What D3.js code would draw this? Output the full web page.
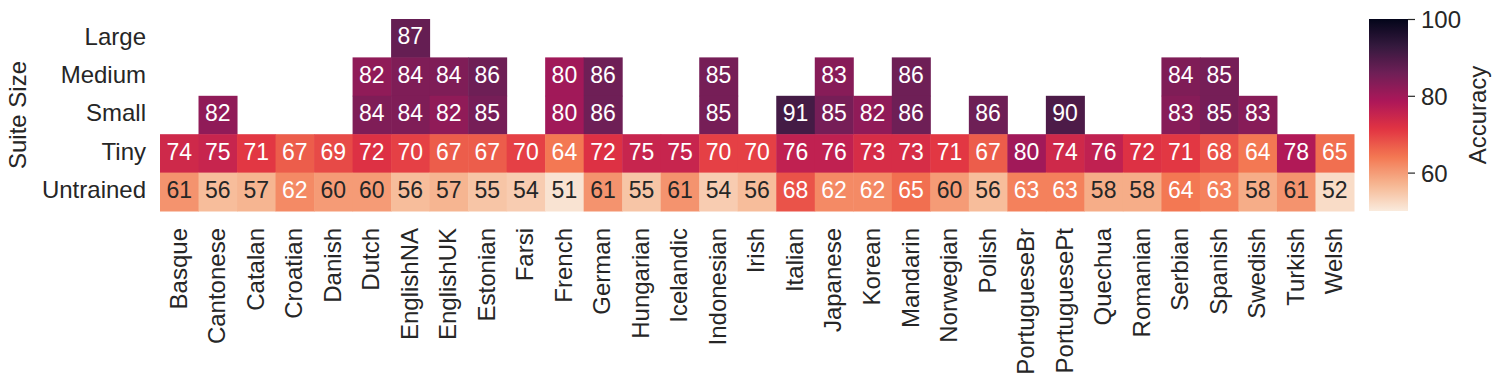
<!DOCTYPE html>
<html>
<head>
<meta charset="utf-8">
<script src="https://cdn.jsdelivr.net/npm/d3@7"></script>
<style>
  body { margin: 0; background: #fff; }
  svg { font-family: "Liberation Sans", Arial, sans-serif; }
</style>
</head>
<body>
<div id="heatmap"></div>
<script>
const languages = ["Basque", "Cantonese", "Catalan", "Croatian", "Danish", "Dutch", "EnglishNA", "EnglishUK",
  "Estonian", "Farsi", "French", "German", "Hungarian", "Icelandic", "Indonesian", "Irish", "Italian",
  "Japanese", "Korean", "Mandarin", "Norwegian", "Polish", "PortugueseBr", "PortuguesePt", "Quechua",
  "Romanian", "Serbian", "Spanish", "Swedish", "Turkish", "Welsh"];
const sizes = ["Large", "Medium", "Small", "Tiny", "Untrained"];

const _ = null;
const large = [_, _, _, _, _, _, 87, _, _, _, _, _, _, _, _, _, _, _, _, _, _, _, _, _, _, _, _, _, _, _, _];
const medium = [_, _, _, _, _, 82, 84, 84, 86, _, 80, 86, _, _, 85, _, _, 83, _, 86, _, _, _, _, _, _, 84, 85, _, _, _];
const small = [_, 82, _, _, _, 84, 84, 82, 85, _, 80, 86, _, _, 85, _, 91, 85, 82, 86, _, 86, _, 90, _, _, 83, 85, 83, _, _];
const tiny = [74, 75, 71, 67, 69, 72, 70, 67, 67, 70, 64, 72, 75, 75, 70, 70, 76, 76, 73, 73, 71, 67, 80, 74, 76, 72, 71, 68, 64, 78, 65];
const untrained = [61, 56, 57, 62, 60, 60, 56, 57, 55, 54, 51, 61, 55, 61, 54, 56, 68, 62, 62, 65, 60, 56, 63, 63, 58, 58, 64, 63, 58, 61, 52];
const colorTicks = [60, 80, 100];

const rows = [large, medium, small, tiny, untrained];
const cells = [];
rows.forEach((vals, r) => vals.forEach((v, i) => {
  if (v !== null) cells.push({ size: sizes[r], lang: languages[i], value: v });
}));

// rocket colormap, reversed (light = low)
const rocket = d3.scaleLinear()
  .domain([0, 1 / 7, 2 / 7, 3 / 7, 4 / 7, 5 / 7, 6 / 7, 1])
  .range(["#03051a", "#35193e", "#701f57", "#ad1759", "#e13342", "#f37651", "#f6b48f", "#faebdd"])
  .interpolate(d3.interpolateRgb);
const vmin = 50, vmax = 100;
const color = (v) => rocket(1 - (v - vmin) / (vmax - vmin));

const luminance = (c) => {
  const rgb = d3.rgb(c);
  const lin = (x) => { x /= 255; return x <= 0.03928 ? x / 12.92 : Math.pow((x + 0.055) / 1.055, 2.4); };
  return 0.2126 * lin(rgb.r) + 0.7152 * lin(rgb.g) + 0.0722 * lin(rgb.b);
};

const width = 1501, height = 387;
const margin = { top: 19, left: 160, right: 1354, bottom: 211 };
const textColor = "#262626";

const svg = d3.select("#heatmap").append("svg")
  .attr("width", width).attr("height", height);

const x = d3.scaleBand().domain(languages).range([margin.left, margin.right]);
const y = d3.scaleBand().domain(sizes).range([margin.top, margin.bottom]);

svg.append("g")
  .selectAll("rect")
  .data(cells)
  .join("rect")
  .attr("x", (d) => x(d.lang))
  .attr("y", (d) => y(d.size))
  .attr("width", x.bandwidth() + 0.5)
  .attr("height", y.bandwidth() + 0.5)
  .attr("fill", (d) => color(d.value));

svg.append("g")
  .selectAll("text")
  .data(cells)
  .join("text")
  .attr("x", (d) => x(d.lang) + x.bandwidth() / 2)
  .attr("y", (d) => y(d.size) + y.bandwidth() / 2)
  .attr("dy", "0.27em")
  .attr("text-anchor", "middle")
  .style("font-size", "23px")
  .attr("fill", (d) => luminance(color(d.value)) > 0.408 ? textColor : "#ffffff")
  .text((d) => d.value);

// y axis
const yAxis = svg.append("g")
  .attr("transform", `translate(${margin.left},0)`)
  .call(d3.axisLeft(y).tickSize(0).tickPadding(14));
yAxis.select(".domain").remove();
yAxis.selectAll("text").style("font-size", "24px").attr("fill", textColor).attr("dy", "0.27em");

// x axis
const xAxis = svg.append("g")
  .attr("transform", `translate(0,${margin.bottom})`)
  .call(d3.axisBottom(x).tickSize(0));
xAxis.select(".domain").remove();
xAxis.selectAll("text")
  .style("font-size", "24px")
  .attr("fill", textColor)
  .attr("transform", "rotate(-90)")
  .attr("text-anchor", "end")
  .attr("x", -17)
  .attr("y", 0)
  .attr("dy", "0.31em");

svg.append("text")
  .attr("transform", `translate(26,${(margin.top + margin.bottom) / 2}) rotate(-90)`)
  .attr("text-anchor", "middle")
  .style("font-size", "24px")
  .attr("fill", textColor)
  .text("Suite Size");

// colorbar
const cb = { x: 1369, w: 39 };
const cy = d3.scaleLinear().domain([vmin, vmax]).range([margin.bottom, margin.top]);
const defs = svg.append("defs");
const grad = defs.append("linearGradient")
  .attr("id", "cbar").attr("x1", 0).attr("y1", 1).attr("x2", 0).attr("y2", 0);
d3.range(0, 1.0001, 0.02).forEach((t) => {
  grad.append("stop").attr("offset", t).attr("stop-color", color(vmin + t * (vmax - vmin)));
});
svg.append("rect")
  .attr("x", cb.x).attr("y", cy(vmax))
  .attr("width", cb.w).attr("height", cy(vmin) - cy(vmax))
  .attr("fill", "url(#cbar)");

const cAxis = svg.append("g")
  .attr("transform", `translate(${cb.x + cb.w},0)`)
  .call(d3.axisRight(cy).tickValues(colorTicks).tickSize(7).tickPadding(6));
cAxis.select(".domain").remove();
cAxis.selectAll("line").attr("stroke", textColor).attr("stroke-width", 1.2);
cAxis.selectAll("text").style("font-size", "24px").attr("fill", textColor).attr("dy", "0.36em");

svg.append("text")
  .attr("transform", `translate(1486,${(margin.top + margin.bottom) / 2}) rotate(-90)`)
  .attr("text-anchor", "middle")
  .style("font-size", "24px")
  .attr("fill", textColor)
  .text("Accuracy");
</script>
</body>
</html>
